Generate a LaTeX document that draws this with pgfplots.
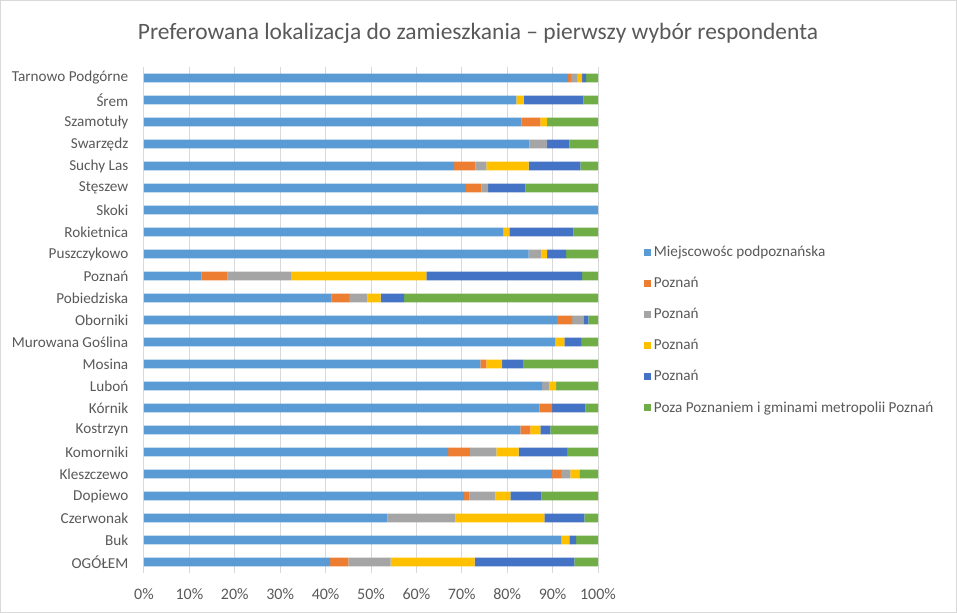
\documentclass[border=0pt]{standalone}
\usepackage{pgfplots}
\pgfplotsset{compat=1.18}
\usepackage{pgfplotstable}
\usepackage{fontspec}
\setmainfont{Carlito}
\definecolor{c1}{HTML}{5B9BD5}
\definecolor{c2}{HTML}{ED7D31}
\definecolor{c3}{HTML}{A5A5A5}
\definecolor{c4}{HTML}{FFC000}
\definecolor{c5}{HTML}{4472C4}
\definecolor{c6}{HTML}{70AD47}
\definecolor{txt}{HTML}{595959}
\definecolor{gridc}{HTML}{D9D9D9}
\pgfplotstableread{
idx s1 s2 s3 s4 s5 s6
0 93.4 0.7 1.3 1.1 0.9 2.6
1 82.0 0 0 1.6 13.2 3.2
2 83.1 4.2 0 1.5 0 11.2
3 84.9 0 3.9 0 4.9 6.3
4 68.3 4.7 2.4 9.3 11.4 3.9
5 70.9 3.4 1.5 0 8.2 16.0
6 100 0 0 0 0 0
7 79.1 0 0 1.4 14.1 5.4
8 84.7 0 2.8 1.3 4.2 7.0
9 12.7 5.7 14.1 29.7 34.3 3.5
10 41.3 3.9 4.0 2.9 5.2 42.7
11 91.0 3.3 2.5 0 1.1 2.1
12 90.6 0 0 2.0 3.7 3.7
13 74.1 1.3 0 3.5 4.7 16.4
14 87.7 0 1.6 1.5 0 9.2
15 87.1 2.8 0 0 7.3 2.8
16 82.9 2.2 0 2.2 2.2 10.5
17 67.0 4.8 5.8 4.9 10.7 6.8
18 89.9 2.0 2.0 2.0 0 4.1
19 70.5 1.2 5.7 3.3 6.8 12.5
20 53.6 0 15.0 19.6 8.8 3.0
21 91.9 0 0 1.8 1.5 4.8
22 41.0 4.0 9.3 18.5 22.0 5.2
}\datatable
\begin{document}
\begin{tikzpicture}
\path[use as bounding box] (0,0) rectangle (717.75pt,459.75pt);
\draw[gridc, line width=0.75pt] (0.375pt,0.375pt) rectangle (717.375pt,459.375pt);
\node[text=txt, font=\fontsize{17.6}{20}\selectfont] at (358.5pt,434.5pt) {Preferowana lokalizacja do zamieszkania – pierwszy wybór respondenta};
\begin{axis}[
  at={(108pt,30pt)}, anchor=south west,
  scale only axis, width=340.5pt, height=379.5pt,
  xbar stacked, bar width=6.4pt,
  xmin=0, xmax=100, ymin=-0.5, ymax=22.5, y dir=reverse,
  ytick={0,...,22},
  yticklabels={Tarnowo Podgórne,Śrem,Szamotuły,Swarzędz,Suchy Las,Stęszew,Skoki,Rokietnica,Puszczykowo,Poznań,Pobiedziska,Oborniki,Murowana Goślina,Mosina,Luboń,Kórnik,Kostrzyn,Komorniki,Kleszczewo,Dopiewo,Czerwonak,Buk,OGÓŁEM},
  xtick={0,10,...,100},
  xticklabels={0\%,10\%,20\%,30\%,40\%,50\%,60\%,70\%,80\%,90\%,100\%},
  xmajorgrids, grid style={gridc, line width=0.75pt},
  axis line style={draw=none}, major tick length=0pt,
  yticklabel style={text=txt, font=\fontsize{11.4}{13}\selectfont, xshift=-8.25pt},
  xticklabel style={text=txt, font=\fontsize{12}{14}\selectfont, yshift=-8.5pt},
  legend style={at={(1.101,0.48)}, anchor=west, draw=none, fill=none,
    font=\fontsize{11.4}{13}\selectfont, text=txt, row sep=10pt, inner sep=0pt},
  legend cell align=left,
  every axis plot post/.append style={
    legend image code/.code={\fill[##1] (0pt,-2.7pt) rectangle (5.4pt,2.7pt);}},
]
\addplot[fill=c1, draw=none] table[x=s1, y=idx] {\datatable};
\addplot[fill=c2, draw=none] table[x=s2, y=idx] {\datatable};
\addplot[fill=c3, draw=none] table[x=s3, y=idx] {\datatable};
\addplot[fill=c4, draw=none] table[x=s4, y=idx] {\datatable};
\addplot[fill=c5, draw=none] table[x=s5, y=idx] {\datatable};
\addplot[fill=c6, draw=none] table[x=s6, y=idx] {\datatable};
\legend{Miejscowośc podpoznańska,Poznań,Poznań,Poznań,Poznań,Poza Poznaniem i gminami metropolii Poznań}
\end{axis}
\end{tikzpicture}
\end{document}
